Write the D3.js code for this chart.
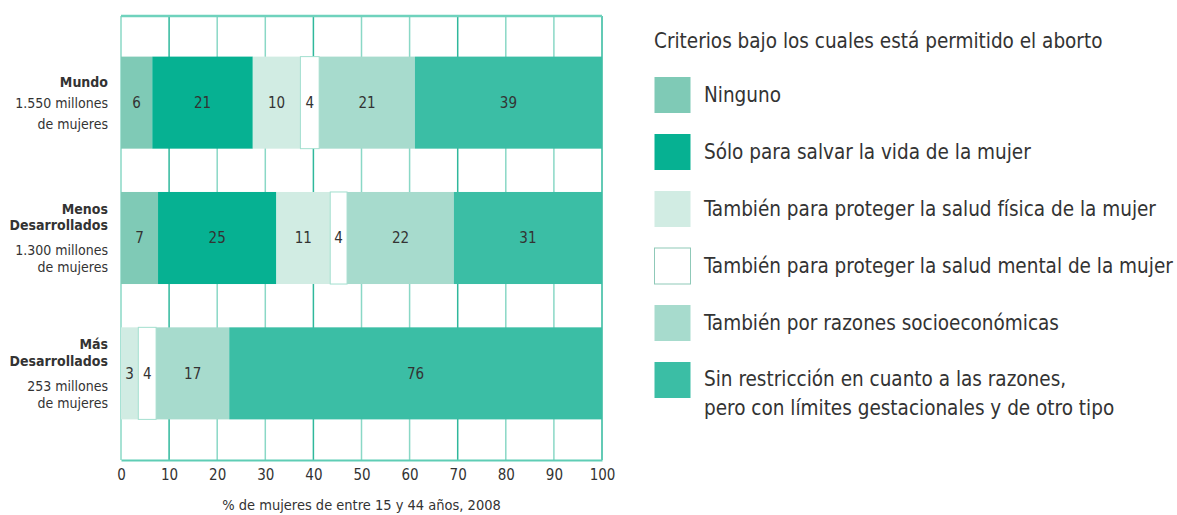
<!DOCTYPE html>
<html>
<head>
<meta charset="utf-8">
<script src="https://cdn.jsdelivr.net/npm/d3@7"></script>
<style>
  body { margin: 0; background: #fff; }
  text { font-family: "Liberation Sans Narrow", "DejaVu Sans Condensed", "Roboto Condensed", Roboto, sans-serif; fill: #333; }
</style>
</head>
<body>
<div id="chart"></div>
<script>
// regions (rows of the chart)
var regions = ["Mundo", "Menos Desarrollados", "Más Desarrollados"];
var regionTitle = [["Mundo"], ["Menos", "Desarrollados"], ["Más", "Desarrollados"]];
var regionSub = [["1.550 millones", "de mujeres"], ["1.300 millones", "de mujeres"], ["253 millones", "de mujeres"]];

// legend categories
var categories = [
  "Ninguno",
  "Sólo para salvar la vida de la mujer",
  "También para proteger la salud física de la mujer",
  "También para proteger la salud mental de la mujer",
  "También por razones socioeconómicas",
  "Sin restricción en cuanto a las razones,|pero con límites gestacionales y de otro tipo"
];
var colors = ["#7fcab6", "#06b192", "#d1ece3", "#ffffff", "#a7dbcd", "#3bbea5"];

// segment widths as drawn (%), and printed labels
var mundoShare = [6.5, 20.9, 9.9, 3.9, 19.9, 38.9];
var menosShare = [7.7, 24.6, 11.2, 3.5, 22.2, 30.8];
var masShare = [0, 0, 3.6, 3.7, 15.2, 77.5];
var mundoLabels = [6, 21, 10, 4, 21, 39];
var menosLabels = [7, 25, 11, 4, 22, 31];
var masLabels = [null, null, 3, 4, 17, 76];

var xTicks = [0, 10, 20, 30, 40, 50, 60, 70, 80, 90, 100];

var shares = [mundoShare, menosShare, masShare];
var labels = [mundoLabels, menosLabels, masLabels];

var svgWidth = 1177;
var svgHeight = 515;
var margin = { top: 16, left: 121, right: 575, bottom: 55 };
var width = svgWidth - margin.left - margin.right;
var height = svgHeight - margin.top - margin.bottom;

var svg = d3.select("#chart").append("svg")
  .attr("width", svgWidth)
  .attr("height", svgHeight);

var chartGroup = svg.append("g")
  .attr("transform", `translate(${margin.left}, ${margin.top})`);

var xScale = d3.scaleLinear().domain([0, 100]).range([0, width]);
var yScale = d3.scaleBand().domain(regions).range([0, height])
  .paddingInner(0.32).paddingOuter(0.3);

// grid
chartGroup.selectAll(".grid")
  .data(xTicks)
  .enter()
  .append("line")
  .attr("x1", d => xScale(d))
  .attr("x2", d => xScale(d))
  .attr("y1", 0)
  .attr("y2", height)
  .attr("stroke", (d, i) => (i % 3 === 1 ? "#2fb89c" : "#8ad8c6"))
  .attr("stroke-width", 1.5);

chartGroup.append("line")
  .attr("x1", 0).attr("x2", width)
  .attr("y1", 0).attr("y2", 0)
  .attr("stroke", "#6fd2bd").attr("stroke-width", 2.5);

// stacked data
var table = regions.map(function (r, i) {
  var row = { region: r };
  categories.forEach(function (c, j) { row[j] = shares[i][j]; });
  return row;
});
var stack = d3.stack().keys(categories.map((c, j) => j));
var series = stack(table);

series.forEach(function (s, j) {
  var g = chartGroup.append("g");
  g.selectAll("rect")
    .data(s.filter(d => d[1] - d[0] > 0))
    .enter()
    .append("rect")
    .attr("x", d => xScale(d[0]))
    .attr("y", d => yScale(d.data.region))
    .attr("width", d => xScale(d[1]) - xScale(d[0]))
    .attr("height", yScale.bandwidth())
    .attr("fill", colors[j])
    .attr("stroke", j === 3 ? "#a3dfcf" : "none")
    .attr("stroke-width", 1);

  g.selectAll("text")
    .data(s)
    .enter()
    .filter((d, i) => labels[i][j] !== null)
    .append("text")
    .attr("x", d => xScale((d[0] + d[1]) / 2))
    .attr("y", d => yScale(d.data.region) + yScale.bandwidth() / 2)
    .attr("dy", "0.35em")
    .attr("text-anchor", "middle")
    .attr("font-size", "15px")
    .text(d => labels[regions.indexOf(d.data.region)][j]);
});

// x axis
var bottomAxis = d3.axisBottom(xScale).tickValues(xTicks).tickSize(0).tickPadding(9);
var xAxis = chartGroup.append("g")
  .attr("transform", `translate(0, ${height})`)
  .call(bottomAxis);
xAxis.select(".domain").attr("stroke", "#5fcdb5").attr("stroke-width", 2);
xAxis.selectAll("text").attr("font-size", "15px").attr("fill", "#333")
  .style("font-family", null);
xAxis.attr("font-family", null);

chartGroup.append("text")
  .attr("x", width / 2)
  .attr("y", height + 50)
  .attr("text-anchor", "middle")
  .attr("font-size", "14.5px")
  .text("% de mujeres de entre 15 y 44 años, 2008");

// row labels
regions.forEach(function (r, i) {
  var cy = yScale(r) + yScale.bandwidth() / 2;
  var lines = regionTitle[i].length;
  var block = chartGroup.append("text")
    .attr("text-anchor", "end")
    .attr("font-size", "14px");
  var start = lines === 1 ? cy - 21 : cy - 29;
  regionTitle[i].forEach(function (t, k) {
    block.append("tspan")
      .attr("x", -13)
      .attr("y", start + k * 16.5)
      .attr("dy", "0.35em")
      .attr("font-weight", "bold")
      .text(t);
  });
  var subStart = start + (lines - 1) * 16.5 + (lines === 1 ? 21 : 25);
  regionSub[i].forEach(function (t, k) {
    block.append("tspan")
      .attr("x", -13)
      .attr("y", subStart + k * (lines === 1 ? 21 : 17))
      .attr("dy", "0.35em")
      .text(t);
  });
});

// legend
var legend = svg.append("g").attr("transform", "translate(654, 0)");
legend.append("text")
  .attr("x", 0)
  .attr("y", 48)
  .attr("font-size", "20.5px")
  .text("Criterios bajo los cuales está permitido el aborto");

categories.forEach(function (c, j) {
  var cy = 95 + j * 57;
  legend.append("rect")
    .attr("x", 0.5)
    .attr("y", cy - 18)
    .attr("width", 36)
    .attr("height", 36)
    .attr("fill", colors[j])
    .attr("stroke", j === 3 ? "#8fc9b8" : "none")
    .attr("stroke-width", 1);
  var parts = c.split("|");
  var t = legend.append("text").attr("font-size", "20.5px");
  parts.forEach(function (p, k) {
    t.append("tspan")
      .attr("x", 50)
      .attr("y", cy + (parts.length > 1 ? -1 : 0) + k * 29)
      .attr("dy", "0.35em")
      .text(p);
  });
});
</script>
</body>
</html>
